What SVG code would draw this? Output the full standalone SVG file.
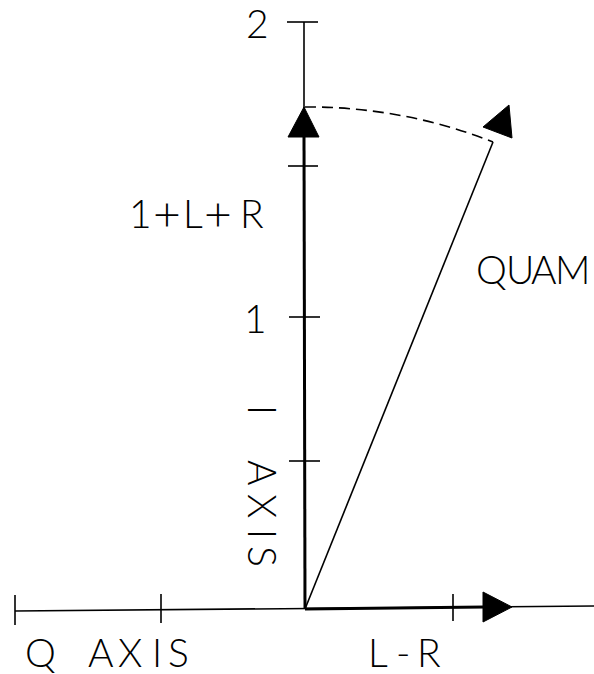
<svg xmlns="http://www.w3.org/2000/svg" width="594" height="674" viewBox="0 0 594 674">
<style>
.t{font-family:"Lato","Liberation Sans",Arial,sans-serif;font-weight:300;font-size:39px;fill:#000}
.thin{stroke:#000;stroke-width:1.6;fill:none}
.thick{stroke:#000;stroke-width:3;fill:none}
.head{fill:#000;stroke:#000;stroke-width:1}
</style>
<rect width="594" height="674" fill="#fff"/>
<g id="connectors">
<line class="thin" x1="15" y1="611" x2="594" y2="606"/>
<line class="thick" x1="305" y1="609" x2="485" y2="607"/>
<line class="thin" x1="304" y1="22" x2="304" y2="137"/>
<line class="thick" x1="304" y1="135" x2="305" y2="609"/>
<line class="thin" x1="305" y1="609" x2="493" y2="142"/>
<path class="thin" d="M305,107 A502,502 0 0 1 493,142" stroke-dasharray="11,6"/>
</g>
<g id="q-axis-ticks">
<line class="thin" x1="15" y1="595" x2="15" y2="625"/>
<line class="thin" x1="161" y1="594" x2="161" y2="623"/>
<line class="thin" x1="453" y1="594" x2="453" y2="621"/>
</g>
<g id="i-axis-ticks">
<line class="thin" x1="287" y1="22" x2="318" y2="22"/>
<line class="thin" x1="288" y1="166" x2="318" y2="166"/>
<line class="thin" x1="289" y1="317" x2="320" y2="317"/>
<line class="thin" x1="289" y1="461" x2="320" y2="461"/>
</g>
<g id="i-arrow"><polygon class="head" points="304,107 288,137 319,137"/></g>
<g id="lr-arrow"><polygon class="head" points="483,592 512,607 483,622"/></g>
<g id="quam-arrow"><polygon class="head" points="509,105 483,127 512,138"/></g>
<g id="labels">
<text class="t" x="246" y="38">2</text>
<text class="t" x="244" y="333">1</text>
<text class="t" y="228"><tspan x="129">1</tspan><tspan x="153" font-size="48" dy="3">+</tspan><tspan x="183" dy="-3">L</tspan><tspan x="204" font-size="48" dy="3">+</tspan><tspan x="240" dy="-3">R</tspan></text>
<text class="t" x="476 506 531 555" y="284">QUAM</text>
<text class="t" x="25 60 88 118 152 168" y="667">Q AXIS</text>
<text class="t" x="368 396 417" y="667">L-R</text>
<text class="t" transform="translate(248,405) rotate(90)" font-size="41" x="0 24 55 89 124 141">I AXIS</text>
</g>
</svg>
